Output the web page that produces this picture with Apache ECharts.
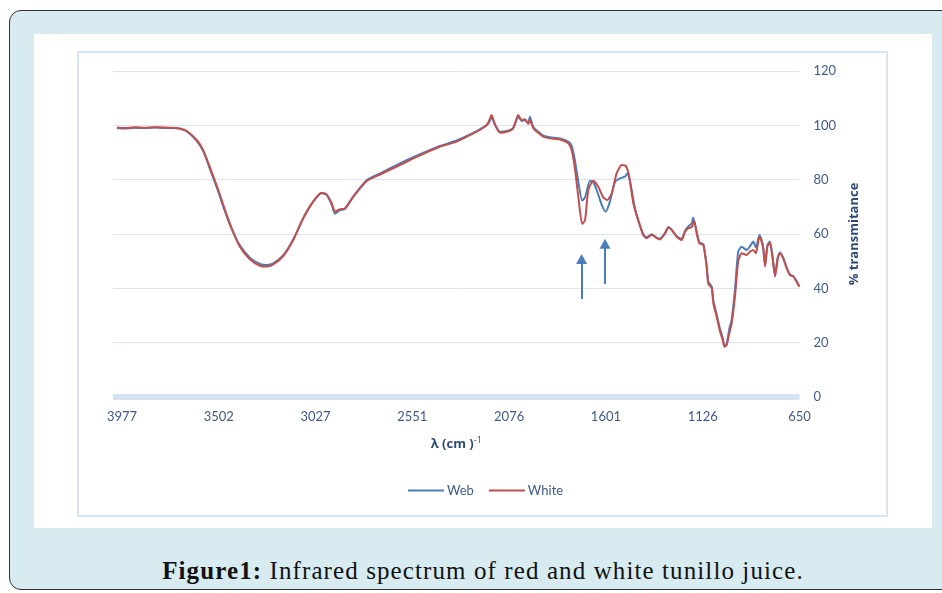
<!DOCTYPE html>
<html>
<head>
<meta charset="utf-8">
<script src="https://cdn.jsdelivr.net/npm/echarts@6/dist/echarts.min.js"></script>
<style>
  html, body { margin: 0; padding: 0; width: 942px; height: 593px; overflow: hidden; background: #ffffff; }
  #frame { position: absolute; left: 9px; top: 10px; width: 960px; height: 580px; box-sizing: border-box;
           border: 1.5px solid #333; border-radius: 12px; background: #d7ebf0; }
  #panel { position: absolute; left: 34px; top: 34px; width: 898px; height: 494px; background: #ffffff; }
  #chartbox { position: absolute; left: 77px; top: 51px; width: 811px; height: 466px; box-sizing: border-box;
              border: 2px solid #d6e4f3; }
  #chart { position: absolute; left: 0; top: 0; width: 942px; height: 593px; }
  #caption { position: absolute; left: 34px; width: 898px; top: 556px; text-align: center;
             font-family: "Liberation Serif", "DejaVu Serif", serif; font-size: 25px; letter-spacing: 1.1px;
             color: #111; line-height: 30px; }
  #caption b { font-weight: bold; }
</style>
</head>
<body>
<div id="frame"></div>
<div id="panel"></div>
<div id="chartbox"></div>
<div id="caption"><b>Figure1:</b> Infrared spectrum of red and white tunillo juice.</div>
<div id="chart"></div>
<script>
// ---- data (wavenumber cm-1, % transmittance) ----
const xTickLabels = ['650', '1126', '1601', '2076', '2551', '3027', '3502', '3977'];
const xStart = 650;
const xEnd = 4021;

const whiteSeries = [
  [4002, 99.2], [3963, 99.0], [3913, 99.3], [3864, 99.1], [3815, 99.3], [3766, 99.2], [3717, 99.0], [3692, 98.8],
  [3660, 98.0], [3610, 94.6], [3578, 90.9], [3537, 82.9], [3504, 76.2], [3471, 68.8], [3438, 62.1], [3398, 55.3],
  [3349, 50.7], [3300, 48.3], [3267, 48.0], [3234, 48.8], [3185, 51.9], [3136, 57.8], [3087, 65.8], [3038, 71.9],
  [2997, 75.2], [2972, 74.6], [2947, 71.3], [2931, 68.2], [2907, 69.1], [2882, 69.4], [2841, 73.7], [2775, 79.5],
  [2710, 81.9], [2612, 85.4], [2530, 88.4], [2416, 92.1], [2334, 94.0], [2252, 97.0], [2195, 99.5], [2178, 101.0],
  [2162, 103.8], [2145, 100.1], [2121, 97.3], [2088, 97.6], [2056, 98.9], [2031, 103.8], [2014, 101.9], [1998, 102.2],
  [1982, 100.5], [1974, 102.0], [1957, 98.9], [1908, 95.8], [1875, 95.2], [1826, 94.8], [1785, 93.4], [1769, 90.9],
  [1753, 84.2], [1736, 73.7], [1717, 63.7], [1703, 65.1], [1687, 76.2], [1663, 79.6], [1638, 77.4], [1614, 73.5],
  [1594, 72.5], [1572, 75.0], [1548, 82.3], [1523, 85.4], [1502, 85.0], [1486, 81.1], [1466, 71.3], [1442, 65.1],
  [1417, 59.6], [1400, 58.4], [1376, 59.7], [1351, 58.5], [1335, 58.0], [1310, 60.2], [1294, 62.4], [1278, 61.5],
  [1253, 59.0], [1229, 57.8], [1212, 60.8], [1196, 62.1], [1179, 62.5], [1168, 64.9], [1155, 60.2], [1142, 56.6],
  [1122, 55.9], [1106, 48.0], [1098, 41.8], [1081, 40.0], [1073, 34.5], [1057, 29.6], [1040, 24.0], [1027, 21.0],
  [1019, 18.5], [1008, 19.1], [995, 23.4], [983, 27.1], [967, 36.9], [951, 49.8], [934, 52.9], [909, 52.3],
  [893, 53.5], [877, 54.1], [864, 52.9], [847, 59.0], [836, 57.2], [828, 54.5], [819, 48.0], [808, 55.3],
  [795, 56.8], [782, 51.0], [770, 44.3], [757, 51.0], [746, 52.9], [730, 51.0], [713, 47.4], [697, 44.9],
  [680, 44.3], [664, 42.4], [651, 40.6]
];

const webSeries = [
  [4002, 99.0], [3963, 98.8], [3913, 99.1], [3864, 99.0], [3815, 99.2], [3766, 99.0], [3717, 99.0], [3692, 98.7],
  [3660, 97.8], [3610, 94.3], [3578, 90.5], [3537, 82.3], [3504, 75.6], [3471, 68.3], [3438, 61.8], [3398, 55.8],
  [3349, 51.3], [3300, 49.0], [3267, 48.6], [3234, 49.2], [3185, 52.2], [3136, 58.0], [3087, 65.8], [3038, 71.9],
  [2997, 75.0], [2972, 74.4], [2947, 70.8], [2931, 67.5], [2907, 68.8], [2882, 69.2], [2841, 73.9], [2775, 79.8],
  [2710, 82.3], [2612, 86.0], [2530, 88.8], [2416, 92.4], [2334, 94.4], [2252, 97.2], [2195, 99.6], [2178, 100.6],
  [2162, 102.8], [2145, 100.3], [2121, 97.6], [2088, 97.9], [2056, 99.1], [2031, 103.2], [2014, 101.6], [1998, 102.0],
  [1982, 100.8], [1974, 103.2], [1957, 99.4], [1908, 96.2], [1875, 95.6], [1826, 95.2], [1785, 94.0], [1769, 92.5],
  [1753, 87.2], [1736, 79.2], [1717, 72.3], [1703, 73.5], [1679, 79.6], [1663, 79.0], [1646, 76.2], [1621, 70.7],
  [1602, 68.2], [1581, 71.9], [1556, 79.2], [1532, 80.5], [1507, 81.1], [1496, 82.3], [1482, 79.2], [1458, 69.4],
  [1442, 65.1], [1417, 59.8], [1400, 58.8], [1376, 59.9], [1351, 58.6], [1335, 58.3], [1310, 60.4], [1294, 62.6],
  [1278, 61.6], [1253, 59.2], [1229, 58.2], [1212, 61.2], [1196, 62.8], [1179, 63.9], [1172, 66.1], [1155, 61.0],
  [1142, 57.0], [1122, 56.2], [1106, 48.4], [1098, 42.5], [1081, 40.6], [1073, 35.5], [1057, 30.5], [1040, 25.0],
  [1027, 21.8], [1019, 19.2], [1008, 19.5], [995, 25.0], [983, 28.5], [967, 39.4], [951, 53.5], [934, 55.3],
  [909, 54.1], [893, 55.5], [877, 57.2], [864, 55.0], [847, 59.6], [836, 57.8], [828, 55.0], [819, 48.6],
  [808, 55.8], [795, 57.2], [782, 51.4], [770, 44.8], [757, 51.4], [746, 53.2], [730, 51.3], [713, 47.6],
  [697, 45.1], [680, 44.5], [664, 42.6], [651, 40.8]
];

// annotation arrows (wavenumber, from %, to %)
const arrowX = [1720, 1605];
const arrowFrom = [36.1, 41.6];
const arrowTo = [50.8, 56.4];

// ---- chart ----
const tickInterval = (parseFloat(xTickLabels[xTickLabels.length - 1]) - xStart) / (xTickLabels.length - 1);
const shift = p => [p[0] - xStart, p[1]];
const textColor = '#405a86';
const nameColor = '#2f4a75';
const fontFam = 'Lato, "Noto Sans", sans-serif';
const nameFont = '"Open Sans", "Noto Sans", sans-serif';

const chart = echarts.init(document.getElementById('chart'), null, { renderer: 'canvas' });
chart.setOption({
  backgroundColor: 'transparent',
  animation: false,
  grid: { left: 113, right: 142.5, top: 71, bottom: 196, containLabel: false },
  legend: {
    left: 403, top: 479, itemWidth: 36, itemHeight: 14, itemGap: 15,
    icon: 'path://M0,6 L36,6 L36,8 L0,8 Z',
    textStyle: { color: textColor, fontSize: 13, fontFamily: fontFam, padding: [0, 0, 0, -2] },
    data: ['Web', 'White']
  },
  xAxis: {
    type: 'value', inverse: true, min: 0, max: xEnd - xStart, interval: tickInterval,
    name: '{b|λ (cm )}{s|-1}', nameLocation: 'middle', nameGap: 39,
    nameTextStyle: {
      rich: {
        b: { fontWeight: 'bold', fontSize: 13, color: nameColor, fontFamily: nameFont },
        s: { fontSize: 9, color: nameColor, fontFamily: nameFont, verticalAlign: 'top', padding: [0, 0, 7, 0] }
      }
    },
    axisLine: { show: true, onZero: false, lineStyle: { color: '#d5e3f1', width: 6, cap: 'butt' } },
    axisTick: { show: false },
    splitLine: { show: false },
    axisLabel: {
      margin: 13, color: textColor, fontSize: 13, fontFamily: fontFam,
      showMaxLabel: false,
      formatter: v => {
        const i = Math.round(v / tickInterval);
        return (Math.abs(v - i * tickInterval) < 1 && i < xTickLabels.length) ? xTickLabels[i] : '';
      }
    }
  },
  yAxis: {
    type: 'value', position: 'right', min: 0, max: 120, interval: 20,
    name: '% transmitance', nameLocation: 'middle', nameRotate: 90, nameGap: 48,
    nameTextStyle: { fontWeight: 'bold', fontSize: 13, color: nameColor, fontFamily: nameFont },
    axisLine: { show: false }, axisTick: { show: false },
    splitLine: { lineStyle: { color: '#dbe4f0', width: 1 } },
    axisLabel: { margin: 14, color: textColor, fontSize: 13, fontFamily: fontFam }
  },
  series: [
    {
      name: 'Web', type: 'line', data: webSeries.map(shift), symbol: 'none', smooth: 0.2,
      lineStyle: { color: '#4a7ebb', width: 2 }, itemStyle: { color: '#4a7ebb' },
      markLine: {
        silent: true, symbol: ['none', 'triangle'], symbolSize: [11, 10],
        label: { show: false },
        lineStyle: { color: '#4a7ebb', width: 2, type: 'solid' },
        data: arrowX.map((x, i) => [
          { coord: [x - xStart, arrowFrom[i]] },
          { coord: [x - xStart, arrowTo[i]] }
        ])
      }
    },
    {
      name: 'White', type: 'line', data: whiteSeries.map(shift), symbol: 'none', smooth: 0.2,
      lineStyle: { color: '#c0504d', width: 2 }, itemStyle: { color: '#c0504d' }
    }
  ]
});
</script>
</body>
</html>
